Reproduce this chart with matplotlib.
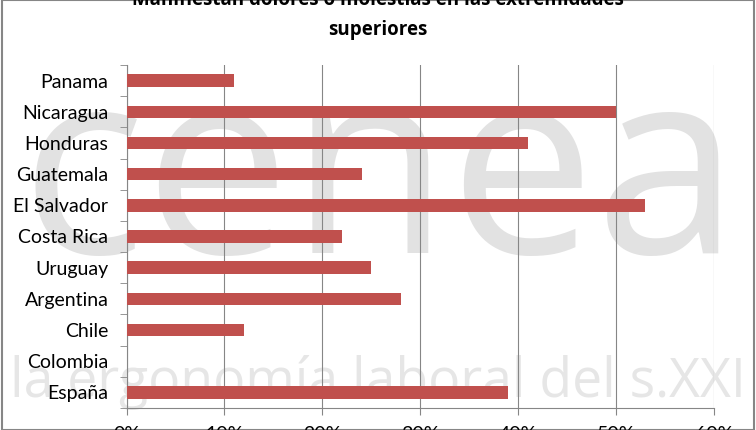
import matplotlib.pyplot as plt
from matplotlib.patches import Rectangle

paises = ["Panama", "Nicaragua", "Honduras", "Guatemala", "El Salvador",
          "Costa Rica", "Uruguay", "Argentina", "Chile", "Colombia", "España"]
valores = [0.11, 0.50, 0.41, 0.24, 0.53, 0.22, 0.25, 0.28, 0.12, 0.0, 0.39]
xticks = [0.0, 0.1, 0.2, 0.3, 0.4, 0.5, 0.6]
xlabels = ["0%", "10%", "20%", "30%", "40%", "50%", "60%"]

TITULO = "Manifiestan dolores o molestias en las extremidades\nsuperiores"
MARCA = "cenea"
LEMA = "la ergonomía laboral del s.XXI"
BAR_COLOR = "#c0504d"
GRIS = "#868686"

plt.rcParams["font.family"] = ["Lato", "DejaVu Sans"]


def fit_width(fig, txt, width_px):
    # scale a text so it spans the given width in pixels
    r = fig.canvas.get_renderer()
    w = txt.get_window_extent(r).width
    txt.set_fontsize(txt.get_fontsize() * width_px / w)


def main() -> None:
    fig = plt.figure(figsize=(7.56, 4.30), dpi=100)

    # faint watermark behind the chart
    marca = fig.text(380 / 756, 1 - 185 / 430, MARCA, fontsize=100,
                     color="#e2e2e2", ha="center", va="center", zorder=0,
                     family="Open Sans")
    fit_width(fig, marca, 720)
    lema = fig.text(378 / 756, 1 - 382 / 430, LEMA, fontsize=30,
                    color="#e6e6e6", ha="center", va="center", zorder=0,
                    family="Open Sans")
    fit_width(fig, lema, 735)

    ax = fig.add_axes([126.5 / 756, 1 - 408 / 430, (714 - 126.5) / 756, (408 - 65) / 430])
    ax.set_zorder(2)
    ax.patch.set_alpha(0)

    y = list(range(len(paises)))
    ax.barh(y, valores, height=0.4, color=BAR_COLOR, zorder=3)

    ax.set_xlim(0, 0.6)
    ax.set_ylim(len(paises) - 0.5, -0.5)
    ax.set_xticks(xticks)
    ax.set_xticklabels(xlabels, fontsize=14)
    ax.set_yticks(y)
    ax.set_yticklabels(paises, fontsize=14)
    ax.tick_params(axis="y", length=0, pad=13)
    ax.set_yticks([i - 0.5 for i in range(len(paises) + 1)], minor=True)
    ax.tick_params(axis="y", which="minor", length=5, color=GRIS)
    ax.tick_params(axis="x", length=5, color=GRIS, pad=8)

    ax.grid(axis="x", color=GRIS, linewidth=0.8, zorder=1)
    for side in ["top", "right"]:
        ax.spines[side].set_visible(False)
    ax.spines["left"].set_color(GRIS)
    ax.spines["bottom"].set_color(GRIS)

    fig.text(0.5, 1 - 15 / 430, TITULO, fontsize=13.5, fontweight="bold",
             ha="center", va="center", linespacing=1.65, family="Open Sans")

    fig.add_artist(Rectangle((0.003, 0.0), 0.994, 1.0, transform=fig.transFigure,
                             fill=False, edgecolor=GRIS, linewidth=1.5))

    fig.savefig("out.png", dpi=100)


if __name__ == "__main__":
    main()
